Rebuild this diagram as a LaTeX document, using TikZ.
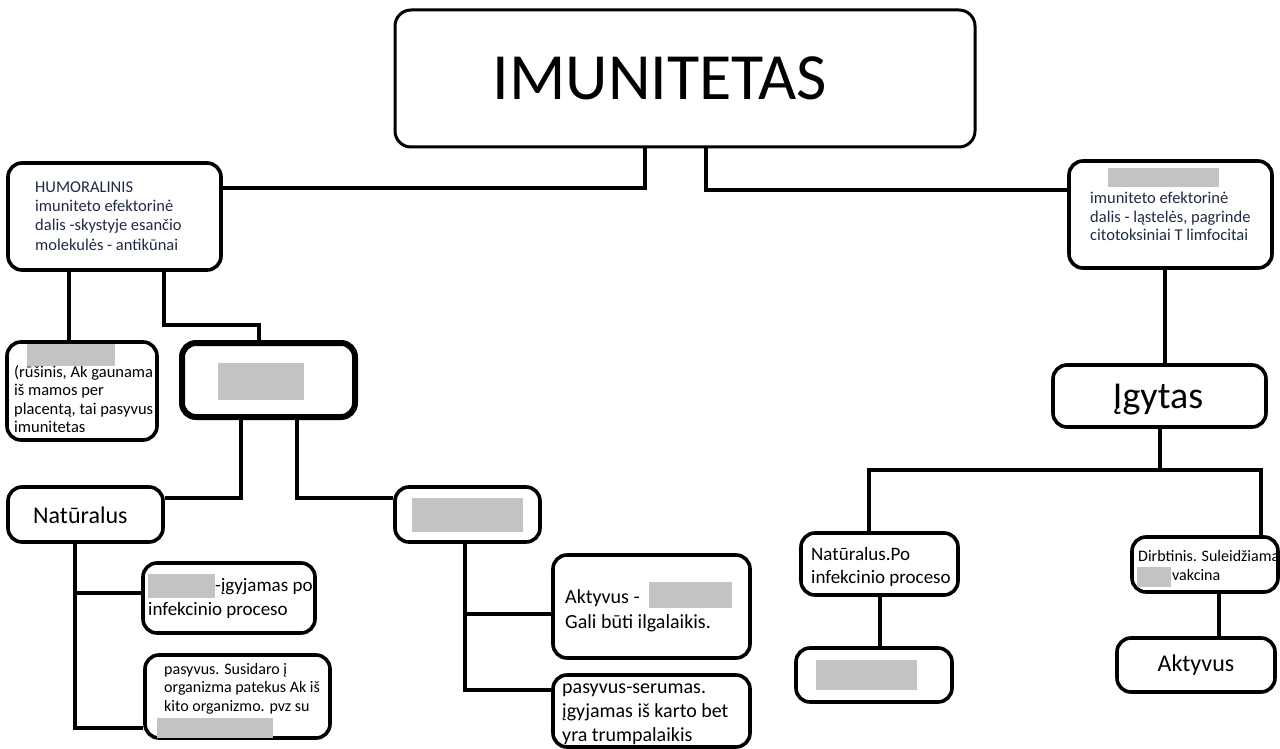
\documentclass[tikz,border=0pt]{standalone}
\usepackage{fontspec}
\setmainfont{Carlito}
\usetikzlibrary{backgrounds}
\definecolor{redgray}{RGB}{195,195,195}
\definecolor{navytext}{RGB}{32,42,68}
\newcommand{\tlines}[1]{\begin{tabular}[t]{@{}l@{}}#1\end{tabular}}
\newcommand{\fs}[2]{\fontsize{#1}{#2}\selectfont}
\begin{document}
\begin{tikzpicture}[x=1pt,y=-1pt,
  box/.style={draw, line width=3.6pt, rounded corners=14pt, inner sep=0pt, fill=white},
  conn/.style={line width=4pt},
  txt/.style={anchor=base west, inner sep=0pt},
  ctxt/.style={anchor=base, inner sep=0pt},
  redact/.style={fill=redgray}]
\useasboundingbox (0,0) rectangle (1280,749);

% ---------- boxes ----------
\node[box, line width=3pt, rounded corners=16pt, minimum width=580pt, minimum height=137pt] (title) at (685,78.5) {};
\node[box, minimum width=213pt, minimum height=107pt] (hum) at (114.5,216.5) {};
\node[box, minimum width=203pt, minimum height=107pt] (cell) at (1170.5,214.5) {};
\node[box, minimum width=213pt, minimum height=62pt] (igy) at (1159.5,396) {};
\node[box, minimum width=150pt, minimum height=98pt] (pas1) at (82,391) {};
\node[box, line width=6pt, minimum width=173pt, minimum height=74pt] (gbox1) at (268.5,380) {};
\node[box, minimum width=155pt, minimum height=55pt] (nat) at (85.5,514.5) {};
\node[box, minimum width=145pt, minimum height=55pt] (gbox2) at (467.5,514.5) {};
\node[box, minimum width=172pt, minimum height=70pt] (igj) at (229,598) {};
\node[box, minimum width=185pt, minimum height=83pt] (pasS) at (237.5,696.5) {};
\node[box, minimum width=197pt, minimum height=103pt] (akt) at (651.5,606.5) {};
\node[box, minimum width=197pt, minimum height=72pt] (ser) at (651.5,711) {};
\node[box, minimum width=157pt, minimum height=62pt] (natpo) at (879.5,564) {};
\node[box, minimum width=156pt, minimum height=54pt] (gbox3) at (874,675) {};
\node[box, minimum width=146pt, minimum height=55pt] (dirb) at (1205,564.5) {};
\node[box, minimum width=158pt, minimum height=54pt] (akt2) at (1196,665) {};

% ---------- connectors (behind the boxes) ----------
\begin{scope}[on background layer]
\draw[conn] ([xshift=-40pt]title.south) |- ([yshift=28.5pt]hum.east);
\draw[conn] ([xshift=21pt]title.south) |- ([yshift=24.5pt]cell.west);
\draw[conn] ([xshift=-45.5pt]hum.south) -- ([xshift=-45.5pt]hum.south |- pas1.north);
\draw[conn] ([xshift=49.5pt]hum.south) -- ++(0,53) -| ([xshift=-9.5pt]gbox1.north);
\draw[conn] ([xshift=-27.5pt]gbox1.south) |- ([yshift=16.5pt]nat.east);
\draw[conn] ([xshift=28.5pt]gbox1.south) |- ([yshift=16.5pt]gbox2.west);
\draw[conn] ([xshift=-10.5pt]nat.south) |- ([yshift=5pt]igj.west);
\draw[conn] ([xshift=-10.5pt]nat.south) |- ([yshift=-31.5pt]pasS.west);
\draw[conn] ([xshift=-2.5pt]gbox2.south) |- ([yshift=-7.5pt]akt.west);
\draw[conn] ([xshift=-2.5pt]gbox2.south) |- ([yshift=21pt]ser.west);
\draw[conn] ([xshift=-5.5pt]cell.south) -- ([xshift=-5.5pt]cell.south |- igy.north);
\draw[conn] (igy.south) -- ++(0,41) -| ([xshift=-10.5pt]natpo.north);
\draw[conn] (igy.south) -- ++(0,41) -| ([xshift=56pt]dirb.north);
\draw[conn] (natpo.south) -- (natpo.south |- gbox3.north);
\draw[conn] ([xshift=14pt]dirb.south) -- ([xshift=14pt]dirb.south |- akt2.north);
\end{scope}

% ---------- texts ----------
\node[ctxt, font=\fs{66}{70}] (titletext) at (660,100) {IMUNITETAS};
\node[txt, font=\fs{16.5}{19.5}, text=navytext] (humtext) at (35,192)
  {\tlines{HUMORALINIS\\imuniteto efektorinė\\dalis -skystyje esančio\\molekulės - antikūnai}};
\node[txt, font=\fs{16.5}{19}, text=navytext] (celltext) at (1090,203)
  {\tlines{imuniteto efektorinė\\dalis - ląstelės, pagrinde\\citotoksiniai T limfocitai}};
\node[txt, font=\fs{16.5}{18.5}] (pas1text) at (14,377)
  {\tlines{(rūšinis, Ak gaunama\\iš mamos per\\placentą, tai pasyvus\\imunitetas}};
\node[txt, font=\fs{24}{28}] (nattext) at (33,523) {Natūralus};
\node[txt, font=\fs{19}{24}] (igjtext) at (148,591)
  {\tlines{\hspace*{67pt}-įgyjamas po\\infekcinio proceso}};
\node[txt, font=\fs{16}{18.7}] (pasStext) at (164,674)
  {\tlines{pasyvus. Susidaro į\\organizma patekus Ak iš\\kito organizmo. pvz su}};
\node[txt, font=\fs{20}{25}] (akttext) at (565,603)
  {\tlines{Aktyvus - \\Gali būti ilgalaikis.}};
\node[txt, font=\fs{20}{24}] (sertext) at (562,693)
  {\tlines{pasyvus-serumas.\\įgyjamas iš karto bet\\yra trumpalaikis}};
\node[txt, font=\fs{19}{23}] (natpotext) at (811,560)
  {\tlines{Natūralus.Po\\infekcinio proceso}};
\node[txt, font=\fs{16}{19}] (dirbtext) at (1138,561)
  {\tlines{Dirbtinis. Suleidžiama\\\hspace*{34pt}vakcina}};
\node[ctxt, font=\fs{24}{28}] (akt2text) at (1196,671) {Aktyvus};
\node[ctxt, font=\fs{38}{44}] (igytext) at (1158,408) {Įgytas};

% ---------- redacted (grey) patches ----------
\fill[redact] (1108,168) rectangle (1219,187);
\fill[redact] (27,344) rectangle (115,366);
\fill[redact] (218,363) rectangle (304,400);
\fill[redact] (412,498) rectangle (523,532);
\fill[redact] (148,574) rectangle (215,598);
\fill[redact] (157,718) rectangle (273,738);
\fill[redact] (649,582) rectangle (732,608);
\fill[redact] (816,660) rectangle (917,690);
\fill[redact] (1137,567) rectangle (1171,587);
\end{tikzpicture}
\end{document}
